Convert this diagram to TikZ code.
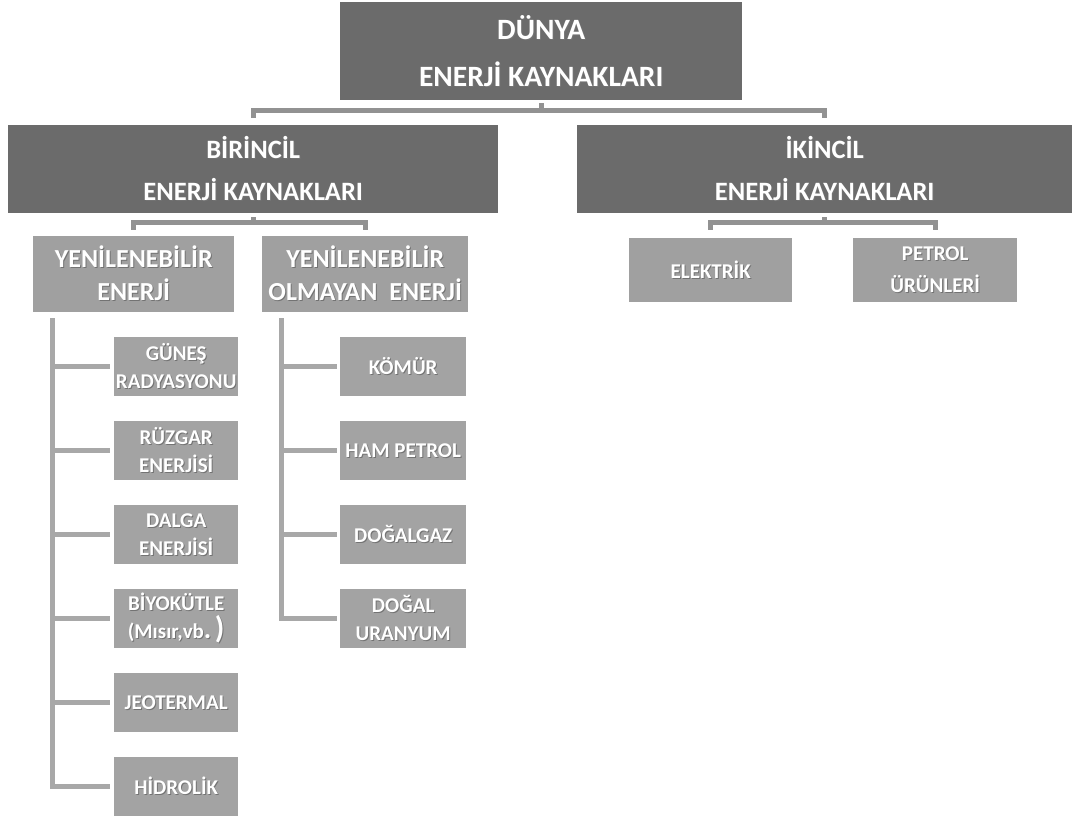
\documentclass[tikz,border=0pt]{standalone}
\usepackage{fontspec}
\setmainfont{Carlito}
\usetikzlibrary{calc}
\definecolor{darkbox}{HTML}{6B6B6B}
\definecolor{midbox}{HTML}{A0A0A0}
\definecolor{leafbox}{HTML}{A3A3A3}
\definecolor{linegray}{HTML}{A8A8A8}
\definecolor{brgray}{HTML}{929292}
\newcommand\shd[1]{\leavevmode\rlap{\kern1pt\raisebox{-1pt}{\textcolor{black!55}{#1}}}#1}
\begin{document}
\begin{tikzpicture}[x=1pt,y=-1pt,
  box/.style={anchor=north west,inner sep=0pt,align=center,text=white},
  darkb/.style={box,fill=darkbox},
  midb/.style={box,fill=midbox},
  leafb/.style={box,fill=leafbox,minimum height=59pt,font=\fontsize{21}{28}\selectfont\bfseries},
  leafl/.style={leafb,minimum width=124pt},
  leafr/.style={leafb,minimum width=126pt},
  bracket/.style={draw=brgray,line width=5pt,line join=miter},
  branch/.style={draw=linegray,line width=5pt,line join=miter}]
\useasboundingbox (0,0) rectangle (1075,819);
\fill[white] (0,0) rectangle (1075,819);
% level 1
\node[darkb,minimum width=402pt,minimum height=98pt,font=\fontsize{29.5}{47}\selectfont\bfseries] (top) at (340,2) {\shd{DÜNYA}\\\shd{ENERJİ KAYNAKLARI}};
% level 2
\node[darkb,minimum width=490pt,minimum height=88pt,font=\fontsize{26.5}{42}\selectfont\bfseries] (bir) at (8,125) {\shd{BİRİNCİL}\\\shd{ENERJİ KAYNAKLARI}};
\node[darkb,minimum width=495pt,minimum height=88pt,font=\fontsize{26.5}{42}\selectfont\bfseries] (ik) at (577,125) {\shd{İKİNCİL}\\\shd{ENERJİ KAYNAKLARI}};
% level 3
\node[midb,minimum width=201pt,minimum height=76pt,font=\fontsize{26}{33}\selectfont\bfseries] (yen) at (33,236) {\shd{YENİLENEBİLİR}\\\shd{ENERJİ}};
\node[midb,minimum width=206pt,minimum height=76pt,font=\fontsize{26}{33}\selectfont\bfseries] (olm) at (262,236) {\shd{YENİLENEBİLİR}\\\shd{OLMAYAN\ \ ENERJİ}};
\node[midb,minimum width=163pt,minimum height=64pt,font=\fontsize{21}{32}\selectfont\bfseries] (elek) at (629,238) {\shd{ELEKTRİK}};
\node[midb,minimum width=164pt,minimum height=64pt,font=\fontsize{21}{32}\selectfont\bfseries] (pet) at (853,238) {\shd{PETROL}\\\shd{ÜRÜNLERİ}};
% leaves left
\node[leafl] (gun) at (114,337) {\shd{GÜNEŞ}\\\shd{RADYASYONU}};
\node[leafl] (ruz) at (114,421) {\shd{RÜZGAR}\\\shd{ENERJİSİ}};
\node[leafl] (dal) at (114,505) {\shd{DALGA}\\\shd{ENERJİSİ}};
\node[leafl] (biy) at (114,589) {\shd{BİYOKÜTLE}\\\shd{(Mısır,vb{\fontsize{28}{28}\selectfont.}\,{\fontsize{31}{28}\selectfont)}}};
\node[leafl] (jeo) at (114,673) {\shd{JEOTERMAL}};
\node[leafl] (hid) at (114,757) {\shd{HİDROLİK}};
% leaves right
\node[leafr] (kom) at (340,337) {\shd{KÖMÜR}};
\node[leafr] (ham) at (340,421) {\shd{HAM PETROL}};
\node[leafr] (dog) at (340,505) {\shd{DOĞALGAZ}};
\node[leafr] (ura) at (340,589) {\shd{DOĞAL}\\\shd{URANYUM}};
% brackets
\draw[bracket,shorten <=3pt,shorten >=7pt] (top.south) -- ++(0,10) -| (bir.north);
\draw[bracket,shorten <=3pt,shorten >=7pt] (top.south) -- ++(0,10) -| (ik.north);
\draw[bracket,shorten <=4pt,shorten >=6pt] (bir.south) -- ++(0,9) -| (yen.north);
\draw[bracket,shorten <=4pt,shorten >=6pt] (bir.south) -- ++(0,9) -| (olm.north);
\draw[bracket,shorten <=4pt,shorten >=8pt] (ik.south) -- ++(0,9) -| (elek.north);
\draw[bracket,shorten <=4pt,shorten >=8pt] (ik.south) -- ++(0,9) -| (pet.north);
% trunks
\coordinate (tl) at ($(yen.south west)+(19,6)$);
\coordinate (tr) at ($(olm.south west)+(19,6)$);
\draw[branch,shorten >=4pt] (tl) |- (hid.west);
\foreach \n in {gun,ruz,dal,biy,jeo} \draw[branch,shorten >=4pt] (tl |- \n.west) -- (\n.west);
\draw[branch,shorten >=3pt] (tr) |- (ura.west);
\foreach \n in {kom,ham,dog} \draw[branch,shorten >=3pt] (tr |- \n.west) -- (\n.west);
\end{tikzpicture}
\end{document}
